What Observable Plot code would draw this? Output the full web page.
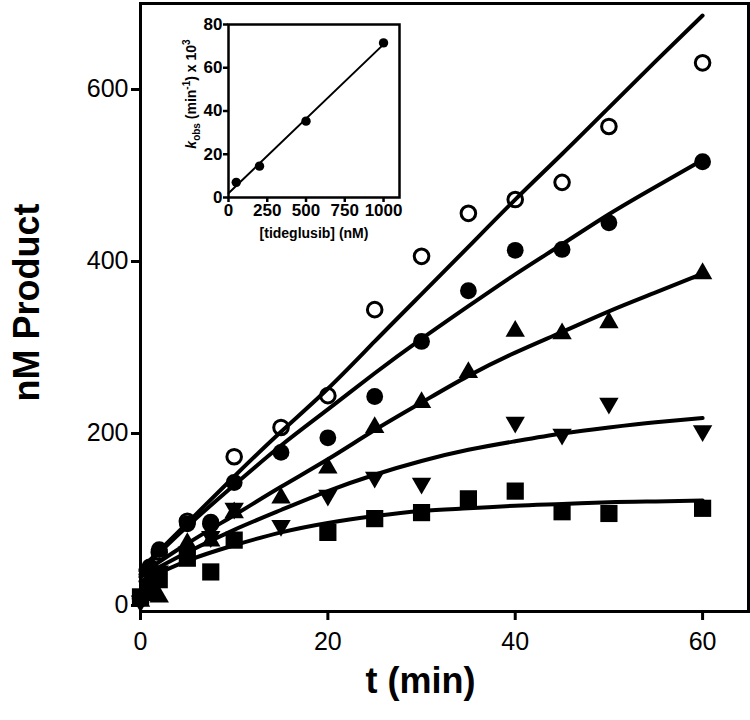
<!DOCTYPE html>
<html><head><meta charset="utf-8">
<script src="https://cdn.jsdelivr.net/npm/d3@7"></script>
<script src="https://cdn.jsdelivr.net/npm/@observablehq/plot@0.6"></script>
<style>
body{margin:0;background:#fff;font-family:"Liberation Sans",Arial,sans-serif;}
#wrap{position:relative;width:750px;height:720px;background:#fff;}
#inset{position:absolute;left:150px;top:0;}
#ylab2{position:absolute;left:191px;top:94px;transform:translate(-50%,-50%) rotate(-90deg);white-space:nowrap;font-weight:bold;font-size:14px;color:#000;line-height:14px;}
#ylab2 sub,#ylab2 sup{font-size:10px;line-height:0;}
</style></head><body><div id="wrap"></div><script>
// ---- main chart data (nM product vs time, min) ----
const t = [0, 1, 2, 5, 7.5, 10, 15, 20, 25, 30, 35, 40, 45, 50, 60];
const openCircle   = [8, 40, 62, 98, 95, 173, 207, 244, 344, 406, 456, 472, 492, 557, 631];
const filledCircle = [8, 45, 65, 95, 97, 143, 178, 195, 243, 307, 366, 413, 414, 445, 516];
const triUp        = [5, 30, 10, 72, 75, 108, 125, 160, 207, 236, 271, 319, 316, 329, 386];
const triDown      = [5, 25, 40, 62, 80, 113, 93, 128, 149, 142, null, 213, 199, 235, 203];
const square       = [10, 15, 30, 55, 39, 76, null, 85, 101, 108, 124, 133, 109, 107, 113];

// fitted curves
const tFit = [0, 5, 10, 15, 20, 25, 30, 35, 40, 45, 50, 55, 60];
const fitOpen    = [42, 96, 150, 202, 252, 307, 362, 417, 472, 525, 579, 633, 686];
const fitFilled  = [40, 92, 140, 186, 228, 270, 310, 348, 385, 420, 455, 487, 518];
const fitTriUp   = [36, 72, 105, 138, 170, 204, 236, 267, 294, 318, 342, 364, 386];
const fitTriDown = [33, 62, 88, 111, 133, 152, 168, 181, 191, 200, 207, 213, 218];
const fitSquare  = [28, 52, 70, 85, 96, 104, 110, 113, 116, 118, 120, 121, 122];

const xTicks = [0, 20, 40, 60];
const yTicks = [0, 200, 400, 600];

// ---- inset data (kobs x 10^3 vs [tideglusib]) ----
const conc = [50, 200, 500, 1000];
const kobs = [7, 14.5, 35.3, 71.5];
const lineConc = [0, 1000];
const lineKobs = [2, 70.8];
const insetXTicks = [0, 250, 500, 750, 1000];
const insetYTicks = [0, 20, 40, 60, 80];

const pts = (ys) => t.map((x, i) => ({x, y: ys[i]})).filter(d => d.y != null);
const fit = (ys) => tFit.map((x, i) => ({x, y: ys[i]}));

const triangleDown = {
  draw(ctx, size) {
    const y = -Math.sqrt(size / (Math.sqrt(3) * 3));
    ctx.moveTo(0, -y * 2);
    ctx.lineTo(-Math.sqrt(3) * y, y);
    ctx.lineTo(Math.sqrt(3) * y, y);
    ctx.closePath();
  }
};

const font = "Liberation Sans, Arial, sans-serif";
const lineOpts = {x: "x", y: "y", curve: "natural", stroke: "black", strokeWidth: 4};

const main = Plot.plot({
  width: 750, height: 720,
  marginLeft: 140, marginRight: 2, marginTop: 3, marginBottom: 109,
  style: {fontFamily: font, color: "black", background: "white", overflow: "visible"},
  x: {domain: [0, 64.9]},
  y: {domain: [-7, 700]},
  marks: [
    Plot.frame({stroke: "black", strokeWidth: 3}),
    Plot.axisX({ticks: xTicks, tickSize: 9, tickPadding: 12, strokeWidth: 3, fontSize: 25, label: null}),
    Plot.axisY({ticks: yTicks, tickSize: 9, tickPadding: 3, strokeWidth: 3, fontSize: 25, label: null}),
    Plot.line(fit(fitOpen), lineOpts),
    Plot.line(fit(fitFilled), lineOpts),
    Plot.line(fit(fitTriUp), lineOpts),
    Plot.line(fit(fitTriDown), lineOpts),
    Plot.line(fit(fitSquare), lineOpts),
    Plot.dot(pts(openCircle), {x: "x", y: "y", r: 7.3, stroke: "black", strokeWidth: 3, fill: "none"}),
    Plot.dot(pts(square), {x: "x", y: "y", symbol: "square", r: 9.7, fill: "black", stroke: "none"}),
    Plot.dot(pts(triDown), {x: "x", y: "y", symbol: triangleDown, r: 7.2, fill: "black", stroke: "none"}),
    Plot.dot(pts(triUp), {x: "x", y: "y", symbol: "triangle", r: 7.2, fill: "black", stroke: "none"}),
    Plot.dot(pts(filledCircle), {x: "x", y: "y", r: 8.4, fill: "black", stroke: "none"}),
    Plot.text(["nM Product"], {frameAnchor: "left", textAnchor: "middle", dx: -113, dy: -5, rotate: -90, fontSize: 36, fontWeight: "bold", fill: "black"}),
    Plot.text(["t (min)"], {frameAnchor: "bottom", textAnchor: "middle", dx: -24, dy: 81, fontSize: 36, fontWeight: "bold", fill: "black"})
  ]
});

const inset = Plot.plot({
  width: 260, height: 250,
  marginLeft: 78, marginRight: 11, marginTop: 24, marginBottom: 53,
  style: {fontFamily: font, color: "black", background: "transparent", overflow: "visible"},
  x: {domain: [0, 1103]},
  y: {domain: [0, 80]},
  marks: [
    Plot.frame({stroke: "black", strokeWidth: 2.5}),
    Plot.axisX({ticks: insetXTicks, tickFormat: d => String(d), tickSize: 5, tickPadding: 1, strokeWidth: 2.5, fontSize: 17, fontWeight: "bold", label: null}),
    Plot.axisY({ticks: insetYTicks, tickFormat: d => String(d), tickSize: 5, tickPadding: 1, strokeWidth: 2.5, fontSize: 17, fontWeight: "bold", label: null}),
    Plot.line(lineConc.map((x, i) => ({x, y: lineKobs[i]})), {x: "x", y: "y", stroke: "black", strokeWidth: 2}),
    Plot.dot(conc.map((x, i) => ({x, y: kobs[i]})), {x: "x", y: "y", r: 4.7, fill: "black", stroke: "none"}),
    Plot.text(["[tideglusib] (nM)"], {frameAnchor: "bottom", textAnchor: "middle", dy: 40, fontSize: 14, fontWeight: "bold", fill: "black"})
  ]
});
inset.id = "inset";

const wrap = document.getElementById("wrap");
wrap.appendChild(main);
wrap.appendChild(inset);
const lab = document.createElement("div");
lab.id = "ylab2";
lab.innerHTML = "<i>k</i><sub>obs</sub> (min<sup>-1</sup>) x 10<sup>3</sup>";
wrap.appendChild(lab);
</script></body></html>
